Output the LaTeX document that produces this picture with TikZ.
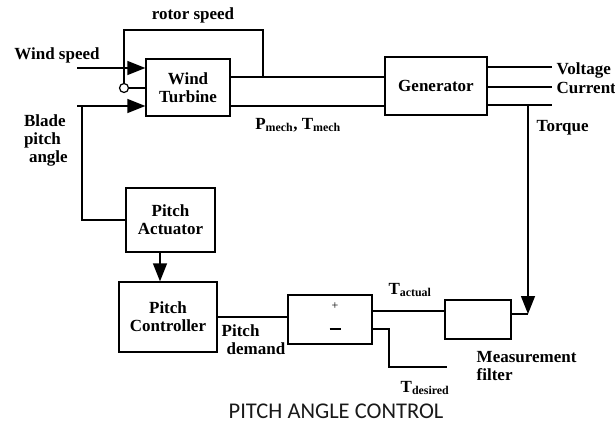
\documentclass[tikz,border=0pt]{standalone}
\usepackage{fontspec}
\setmainfont{Liberation Serif}
\newfontfamily\titlefont{Carlito}
\usetikzlibrary{arrows.meta}

\begin{document}
\begin{tikzpicture}[x=1pt, y=-1pt, line width=1.4pt,
    font=\fontsize{17}{18}\selectfont\bfseries,
    >={Triangle[length=18pt, width=14pt]},
    blk/.style={draw, align=center, inner sep=0pt}]
    \useasboundingbox (0,0) rectangle (615,423);

    % blocks
    \node (wt) [blk, minimum width=84pt, minimum height=57pt] at (188,87.5) {Wind\\Turbine};
    \node (gen) [blk, minimum width=102pt, minimum height=58pt] at (436,86) {Generator};
    \node (act) [blk, minimum width=89pt, minimum height=64pt] at (170.5,220) {Pitch\\Actuator};
    \node (ctl) [blk, minimum width=98pt, minimum height=70pt] at (168,317) {Pitch\\Controller};
    \node (sum) [blk, minimum width=84pt, minimum height=49pt] at (330,319.5) {};
    \node (filt) [blk, minimum width=66pt, minimum height=39pt] at (478,319.5) {};
    \node (ring) [draw, circle, inner sep=0pt, minimum size=9pt, line width=1.2pt] at (124,88) {};

    % turbine inputs
    \coordinate (ws) at (77,68);
    \coordinate (bp) at (77,106);
    \coordinate (bpv) at (82,106);
    \coordinate (tap) at (263,77);
    \coordinate (lp) at (124,30);
    \draw[->] (ws) -- (wt.west |- ws);
    \draw[->] (bp) -- (wt.west |- bp);
    \draw (tap) |- (lp) -- (ring);
    \draw (ring) -- (wt.west |- ring);
    \draw (act.west) -| (bpv);

    % turbine to generator
    \draw (wt.east |- tap) -- (gen.west |- tap);
    \draw (wt.east |- bp) -- (gen.west |- bp);

    % generator outputs
    \coordinate (vo) at (552,67);
    \coordinate (co) at (552,87);
    \coordinate (to) at (552,105);
    \coordinate (tq) at (528,105);
    \coordinate (tf) at (528,314);
    \draw (gen.east |- vo) -- (vo);
    \draw (gen.east |- co) -- (co);
    \draw (gen.east |- to) -- (to);
    \draw[->] (tq) -- (tf);
    \draw (filt.east |- tf) -- (tf);

    % control loop
    \coordinate (ta) at (372,311);
    \coordinate (td) at (372,329);
    \coordinate (tdk) at (389,329);
    \coordinate (tde) at (447,367);
    \draw[->] (act.south -| 160,0) -- (ctl.north -| 160,0);
    \draw (ctl.east) -- (sum.west |- ctl.east);
    \draw (ta) -- (filt.west |- ta);
    \draw (td) -- (tdk) |- (tde);

    % labels
    \node (lrs) at (193,15) {rotor speed};
    \node (lws) at (57,55) {Wind speed};
    \node (lbp) [anchor=west, align=left] at (20,140) {Blade\\pitch\\\hspace{5pt}angle};
    \node (lpm) at (298,125) {P\textsubscript{mech}, T\textsubscript{mech}};
    \node (lv) [anchor=west, inner sep=0pt] at (556,70) {Voltage};
    \node (lc) [anchor=west, inner sep=0pt] at (556,88) {Current};
    \node (ltq) [anchor=west, inner sep=0pt] at (536,128) {Torque};
    \node (lpd) [anchor=west, align=left, inner sep=0pt] at (221,340) {Pitch\\\hspace{5pt}demand};
    \node (lmf) [anchor=west, align=left, inner sep=0pt] at (476,366) {Measurement\\filter};
    \node (lta) at (410,290) {T\textsubscript{actual}};
    \node (ltd) at (425,388) {T\textsubscript{desired}};
    \node (lplus) [font=\fontsize{12}{12}\selectfont] at (335,306) {+};
    \node (lminus) at (335,329) {\rule{11pt}{2pt}};
    \node (title) [font=\titlefont\fontsize{22.5}{22.5}\selectfont, text=black!90, inner sep=0pt] at (336,411) {PITCH ANGLE CONTROL};
\end{tikzpicture}
\end{document}
